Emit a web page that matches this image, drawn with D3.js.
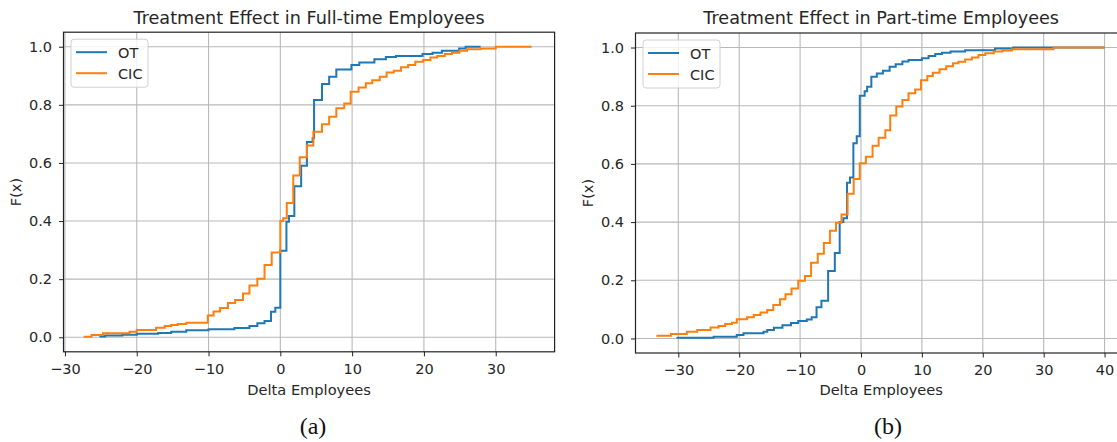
<!DOCTYPE html>
<html>
<head>
<meta charset="utf-8">
<script src="https://cdn.jsdelivr.net/npm/d3@7"></script>
<style>
  body { margin: 0; background: #fff; }
  svg { display: block; }
  text { font-family: "DejaVu Sans", sans-serif; fill: #262626; }
  .caption { font-family: "Liberation Serif", "Times New Roman", serif; fill: #111; }
</style>
</head>
<body>
<svg width="1117" height="442"></svg>
<script>
// Full-time employees, empirical CDF steps (x = delta employees, F = cumulative share)
var ftOtX = [-25.2, -24.4, -22, -20, -17, -15.2, -13.1, -10, -6.4, -4.3, -3.2, -2.2, -1.3, -0.7, 0, 0.85, 1.2, 1.95, 2.9, 3.7, 4.5, 4.7, 5.8, 6.8, 7.8, 9.9, 11, 13.1, 14.7, 16.1, 19.8, 21.2, 22.5, 24.9, 25.8, 27.9];
var ftOtF = [0.003, 0.006, 0.009, 0.012, 0.015, 0.019, 0.024, 0.028, 0.032, 0.039, 0.048, 0.056, 0.088, 0.102, 0.298, 0.398, 0.417, 0.52, 0.59, 0.672, 0.685, 0.817, 0.872, 0.897, 0.922, 0.937, 0.946, 0.957, 0.965, 0.968, 0.975, 0.979, 0.986, 0.994, 1.0, 1.0];

var ftCicX = [-27.4, -26.3, -24.7, -21, -20, -17.3, -16.1, -15.2, -14.3, -13.1, -10.1, -9.3, -8.4, -7.3, -6.3, -5.2, -4.3, -3.2, -2.2, -1.2, 0, 0.4, 0.9, 1.8, 2.7, 3.7, 4.6, 5.8, 6.8, 7.8, 8.9, 9.8, 10.9, 11.9, 12.8, 13.85, 14.8, 15.8, 16.8, 17.8, 18.8, 19.9, 20.9, 21.85, 22.9, 23.9, 24.95, 26, 27.9, 30, 35];
var ftCicF = [0.002, 0.008, 0.014, 0.019, 0.025, 0.033, 0.039, 0.042, 0.046, 0.05, 0.075, 0.089, 0.101, 0.118, 0.128, 0.151, 0.178, 0.201, 0.249, 0.292, 0.4, 0.41, 0.462, 0.557, 0.62, 0.66, 0.707, 0.733, 0.759, 0.788, 0.805, 0.845, 0.86, 0.874, 0.885, 0.897, 0.911, 0.917, 0.929, 0.937, 0.948, 0.954, 0.963, 0.968, 0.975, 0.979, 0.986, 0.991, 0.994, 1.0, 1.0];

// Part-time employees
var ptOtX = [-30.3, -24.2, -20.4, -19.3, -16, -15.4, -14.3, -12.9, -11.5, -10.3, -8.9, -8.1, -7.3, -6.5, -5.4, -4.3, -3.5, -2.9, -2.3, -1.8, -1.25, -0.7, -0.2, 0.6, 1.0, 1.7, 2.6, 3.6, 4.7, 5.7, 6.8, 7.8, 10, 11.1, 12.2, 13.3, 14.7, 17.1, 22, 25, 40];
var ptOtF = [0.002, 0.006, 0.012, 0.018, 0.023, 0.029, 0.037, 0.045, 0.053, 0.06, 0.065, 0.073, 0.107, 0.13, 0.232, 0.294, 0.4, 0.413, 0.535, 0.553, 0.671, 0.695, 0.834, 0.85, 0.865, 0.9, 0.911, 0.92, 0.934, 0.943, 0.952, 0.957, 0.963, 0.971, 0.978, 0.982, 0.986, 0.991, 0.997, 1.0, 1.0];

var ptCicX = [-33.6, -31.2, -28.6, -26.9, -24.7, -23.4, -22.3, -21.2, -20.4, -18.7, -17.6, -16.5, -15.4, -14.4, -13.3, -12.4, -11.4, -10.3, -9.2, -8.2, -7.1, -6.1, -5.1, -4.1, -3.2, -2.2, -1.2, -0.2, 0.8, 1.9, 2.9, 4.0, 4.8, 5.8, 6.8, 7.8, 8.9, 9.85, 10.9, 11.8, 12.9, 14.0, 15.1, 16, 17.1, 18.2, 19.3, 20.4, 21.8, 23.2, 24.8, 31.6, 40];
var ptCicF = [0.009, 0.015, 0.023, 0.029, 0.038, 0.043, 0.05, 0.054, 0.066, 0.073, 0.081, 0.089, 0.098, 0.115, 0.135, 0.152, 0.172, 0.198, 0.215, 0.26, 0.291, 0.328, 0.37, 0.398, 0.426, 0.497, 0.548, 0.602, 0.625, 0.662, 0.69, 0.716, 0.766, 0.797, 0.82, 0.843, 0.856, 0.888, 0.902, 0.913, 0.925, 0.936, 0.946, 0.951, 0.959, 0.966, 0.974, 0.98, 0.986, 0.99, 0.994, 1.0, 1.0];

var seriesNames = ["OT", "CIC"];
var seriesColors = ["#1f77b4", "#ff7f0e"];
var yTicks = [0, 0.2, 0.4, 0.6, 0.8, 1.0];
var ftXTicks = [-30, -20, -10, 0, 10, 20, 30];
var ptXTicks = [-30, -20, -10, 0, 10, 20, 30, 40];

var svg = d3.select("svg");

function zip(xs, fs) {
  return xs.map(function (x, i) { return [x, fs[i]]; });
}

function drawPanel(p) {
  var x = d3.scaleLinear().domain(p.xlim).range([p.left, p.right]);
  var y = d3.scaleLinear().domain([-0.05, 1.05]).range([p.bottom, p.top]);
  var g = svg.append("g");

  // grid
  g.append("g").selectAll("line").data(p.xTicks).enter().append("line")
    .attr("x1", function (d) { return x(d); }).attr("x2", function (d) { return x(d); })
    .attr("y1", p.top).attr("y2", p.bottom)
    .attr("stroke", "#b9b9b9").attr("stroke-width", 1.1);
  g.append("g").selectAll("line").data(yTicks).enter().append("line")
    .attr("y1", function (d) { return y(d); }).attr("y2", function (d) { return y(d); })
    .attr("x1", p.left).attr("x2", p.right)
    .attr("stroke", "#b9b9b9").attr("stroke-width", 1.1);

  // curves
  var line = d3.line()
    .x(function (d) { return x(d[0]); })
    .y(function (d) { return y(d[1]); })
    .curve(d3.curveStepAfter);
  p.series.forEach(function (s, i) {
    g.append("path")
      .attr("d", line(s))
      .attr("fill", "none")
      .attr("stroke", seriesColors[i])
      .attr("stroke-width", 2);
  });

  // axes
  var xAxis = g.append("g")
    .attr("transform", "translate(0," + p.bottom + ")")
    .call(d3.axisBottom(x).tickValues(p.xTicks).tickSize(4.5).tickPadding(7)
      .tickFormat(function (d) { return d < 0 ? "\u2212" + Math.abs(d) : d; }));
  var yAxis = g.append("g")
    .attr("transform", "translate(" + p.left + ",0)")
    .call(d3.axisLeft(y).tickValues(yTicks).tickSize(4.5).tickPadding(7)
      .tickFormat(d3.format(".1f")));
  [xAxis, yAxis].forEach(function (a) {
    a.select(".domain").remove();
    a.selectAll("line").attr("stroke", "#222");
    a.selectAll("text").attr("font-size", 14.5).attr("font-family", "DejaVu Sans").attr("fill", "#262626");
  });

  g.append("rect")
    .attr("x", p.left).attr("y", p.top)
    .attr("width", p.right - p.left).attr("height", p.bottom - p.top)
    .attr("fill", "none").attr("stroke", "#222").attr("stroke-width", 1.2);

  var cx = (p.left + p.right) / 2;
  g.append("text").attr("x", cx).attr("y", 24)
    .attr("text-anchor", "middle").attr("font-size", 17.6).text(p.title);
  g.append("text").attr("x", cx).attr("y", 395)
    .attr("text-anchor", "middle").attr("font-size", 14.6).text("Delta Employees");
  g.append("text")
    .attr("transform", "translate(" + (p.left - 43) + "," + ((p.top + p.bottom) / 2) + ") rotate(-90)")
    .attr("text-anchor", "middle").attr("font-size", 14.5).text("F(x)");

  // legend
  var lg = g.append("g").attr("transform", "translate(" + (p.left + 7.5) + "," + (p.top + 7) + ")");
  lg.append("rect").attr("width", 77).attr("height", 48).attr("rx", 3)
    .attr("fill", "#fff").attr("fill-opacity", 0.8).attr("stroke", "#d0d0d0");
  seriesNames.forEach(function (n, i) {
    var ly = 13 + i * 21;
    lg.append("line").attr("x1", 5).attr("x2", 36).attr("y1", ly).attr("y2", ly)
      .attr("stroke", seriesColors[i]).attr("stroke-width", 2);
    lg.append("text").attr("x", 47).attr("y", ly + 5.5).attr("font-size", 14.5).text(n);
  });

  svg.append("text").attr("class", "caption").attr("x", p.captionX).attr("y", 434)
    .attr("text-anchor", "middle").attr("font-size", 24).text(p.caption);
}

drawPanel({
  left: 63.5, right: 554.6, top: 32.2, bottom: 351.8,
  xlim: [-30.2, 38.2], xTicks: ftXTicks,
  title: "Treatment Effect in Full-time Employees",
  series: [zip(ftOtX, ftOtF), zip(ftCicX, ftCicF)],
  caption: "(a)", captionX: 313
});

drawPanel({
  left: 635.5, right: 1126.8, top: 33, bottom: 353,
  xlim: [-37.03, 43.65], xTicks: ptXTicks,
  title: "Treatment Effect in Part-time Employees",
  series: [zip(ptOtX, ptOtF), zip(ptCicX, ptCicF)],
  caption: "(b)", captionX: 888
});
</script>
</body>
</html>
